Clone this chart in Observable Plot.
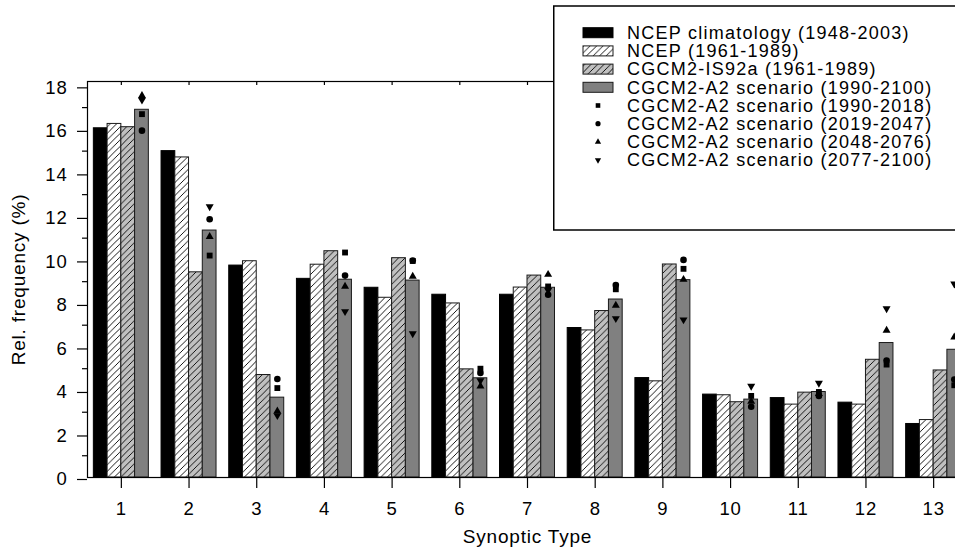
<!DOCTYPE html>
<html><head><meta charset="utf-8">
<script src="https://cdn.jsdelivr.net/npm/d3@7"></script>
<script src="https://cdn.jsdelivr.net/npm/@observablehq/plot@0.6"></script>
<style>
html,body{margin:0;padding:0;background:#fff;overflow:hidden;}
#wrap{position:relative;width:955px;height:554px;overflow:hidden;font-family:"Liberation Sans",Arial,sans-serif;}
#wrap > svg.chart{max-width:none !important;width:975px !important;height:554px !important;}
#legend{position:absolute;left:553px;top:5px;}
</style></head><body>
<svg width="0" height="0" style="position:absolute">
<defs>
<pattern id="hatchWhite" patternUnits="userSpaceOnUse" width="6.5" height="6.5">
<rect width="6.5" height="6.5" fill="#ffffff"/>
<path d="M-1,1 L1,-1 M0,6.5 L6.5,0 M5.5,7.5 L7.5,5.5" stroke="#000" stroke-width="0.9"/>
</pattern>
<pattern id="hatchGrey" patternUnits="userSpaceOnUse" width="6.5" height="6.5">
<rect width="6.5" height="6.5" fill="#c0c0c0"/>
<path d="M-1,1 L1,-1 M0,6.5 L6.5,0 M5.5,7.5 L7.5,5.5" stroke="#000" stroke-width="0.9"/>
</pattern>
</defs></svg>
<div id="wrap"></div>
<script>
// ---- data ----
const types = [1,2,3,4,5,6,7,8,9,10,11,12,13];
const ncepClim  = [16.05, 15.0, 9.74, 9.13, 8.72, 8.40, 8.40, 6.87, 4.57, 3.81, 3.65, 3.44, 2.46];
const ncep6189  = [16.25, 14.71, 9.94, 9.78, 8.26, 8.0, 8.73, 6.76, 4.42, 3.78, 3.35, 3.35, 2.64];
const is92a     = [16.1, 9.43, 4.71, 10.4, 10.08, 4.97, 9.28, 7.65, 9.79, 3.46, 3.9, 5.41, 4.92];
const a2full    = [16.9, 11.35, 3.67, 9.09, 9.05, 4.56, 8.72, 8.18, 9.07, 3.58, 3.93, 6.18, 5.87];
const a2p1 = [16.7, 10.2, 4.11, 10.34, 9.95, 5.0, 8.78, 8.65, 9.59, 3.75, 3.93, 5.19, 4.24];   // 1990-2018
const a2p2 = [15.94, 11.87, 4.53, 9.28, 9.97, 4.8, 8.4, 8.85, 10.0, 3.25, 3.75, 5.38, 4.5];   // 2019-2047
const a2p3 = [17.55, 11.07, 3.05, 8.78, 9.24, 4.2, 9.33, 7.91, 9.1, 3.5, 3.85, 6.76, 6.45];   // 2048-2076
const a2p4 = [17.35, 12.45, 2.85, 7.63, 6.61, 4.45, 8.6, 7.31, 7.25, 4.2, 4.34, 7.76, 8.9];   // 2077-2100
const barNames = ["NCEP climatology (1948-2003)", "NCEP (1961-1989)", "CGCM2-IS92a (1961-1989)", "CGCM2-A2 scenario (1990-2100)"];
const dotNames = ["CGCM2-A2 scenario (1990-2018)", "CGCM2-A2 scenario (2019-2047)", "CGCM2-A2 scenario (2048-2076)", "CGCM2-A2 scenario (2077-2100)"];
const yMajor = [0,2,4,6,8,10,12,14,16,18];
const yMinor = [1,3,5,7,9,11,13,15,17];
const xLabel = "Synoptic Type";
const yLabel = "Rel. frequency (%)";

// ---- styles ----
const barFills = ["#000000", "url(#hatchWhite)", "url(#hatchGrey)", "#808080"];
const barStrokes = ["#000000", "#1a1a1a", "#1a1a1a", "#1a1a1a"];
const triUp = {draw(ctx, size){ const h = Math.sqrt(size/ (Math.sqrt(3)*3)) * 0.9; ctx.moveTo(0,-2*h); ctx.lineTo(Math.sqrt(3)*h, h); ctx.lineTo(-Math.sqrt(3)*h, h); ctx.closePath(); }};
const triDown = {draw(ctx, size){ const h = Math.sqrt(size/ (Math.sqrt(3)*3)) * 0.9; ctx.moveTo(0,2*h); ctx.lineTo(Math.sqrt(3)*h, -h); ctx.lineTo(-Math.sqrt(3)*h, -h); ctx.closePath(); }};
const dotSymbols = ["square", "circle", triUp, triDown];

const barSeries = [ncepClim, ncep6189, is92a, a2full];
const dotSeries = [a2p1, a2p2, a2p3, a2p4];

const W = 975, H = 554, mL = 87, mR = 8, mT = 81, mB = 77;
const band = (W - mL - mR) / types.length;
const groupPad = 6.35, barW = (band - 2*groupPad) / 4;
const lastBarOffset = groupPad + 3.5*barW - band/2;
const FONT = '"Liberation Sans", Arial, sans-serif';

const marks = [];
barSeries.forEach((vals, i) => {
  const rows = types.map((t, j) => ({type: t, value: vals[j]}));
  marks.push(Plot.barY(rows, {x: "type", y: "value", fill: barFills[i], stroke: barStrokes[i], strokeWidth: 1,
    insetLeft: groupPad + i*barW, insetRight: band - groupPad - (i+1)*barW}));
});
dotSeries.forEach((vals, i) => {
  const rows = types.map((t, j) => ({type: t, value: vals[j]}));
  marks.push(Plot.dot(rows, {x: "type", y: "value", symbol: dotSymbols[i], r: 3.3, fill: "#000", stroke: "none", dx: lastBarOffset}));
});
marks.push(Plot.frame({stroke: "#000", strokeWidth: 1.2}));
marks.push(Plot.axisY(yMajor, {tickSize: 10, tickPadding: 10, fontSize: 18.5, dy: 2, label: null, strokeWidth: 1.2}));
marks.push(Plot.axisY(yMinor, {tickSize: 5, tickFormat: () => "", label: null, strokeWidth: 1.2}));
marks.push(Plot.axisX(types, {anchor: "bottom", tickSize: 11, tickPadding: 13, fontSize: 18.5, label: null, strokeWidth: 1.2}));
marks.push(Plot.axisX(types, {anchor: "top", tickSize: -3, tickFormat: () => "", label: null, strokeWidth: 1.2}));
marks.push(Plot.text([xLabel], {text: d => d, frameAnchor: "bottom", dy: 59, fontSize: 19, textAnchor: "middle", lineAnchor: "middle"}));
marks.push(Plot.text([yLabel], {text: d => d, frameAnchor: "left", dx: -69, rotate: -90, fontSize: 19, textAnchor: "middle", lineAnchor: "middle"}));

const chart = Plot.plot({
  width: W, height: H, marginLeft: mL, marginRight: mR, marginTop: mT, marginBottom: mB,
  className: "chart",
  style: {fontFamily: FONT, color: "#000", background: "transparent", overflow: "visible", maxWidth: "none", letterSpacing: "0.8px"},
  x: {type: "band", domain: types, padding: 0, round: false, axis: null},
  y: {domain: [0, 18.2], axis: null},
  marks
});
chart.classList.add("chart");
const wrap = document.getElementById("wrap");
wrap.appendChild(chart);

// ---- legend ----
const lg = d3.select(wrap).append("svg").attr("id", "legend").attr("width", 420).attr("height", 228)
  .style("font-family", FONT).style("letter-spacing", "1.25px");
lg.append("rect").attr("x", 0.75).attr("y", 1).attr("width", 440).attr("height", 224)
  .attr("fill", "#fff").attr("stroke", "#000").attr("stroke-width", 1.5);
const rowY = k => 27.7 + 18.2*k;
barNames.forEach((name, i) => {
  lg.append("rect").attr("x", 30).attr("y", rowY(i) - 5).attr("width", 30).attr("height", 10)
    .attr("fill", barFills[i]).attr("stroke", barStrokes[i]).attr("stroke-width", 1);
  lg.append("text").attr("x", 74).attr("y", rowY(i)).attr("dy", "0.35em").attr("font-size", 18).attr("fill", "#000").text(name);
});
dotNames.forEach((name, i) => {
  const k = i + 4;
  const sym = dotSymbols[i];
  const symType = sym === "square" ? d3.symbolSquare : sym === "circle" ? d3.symbolCircle : sym;
  lg.append("path").attr("transform", `translate(45,${rowY(k)})`)
    .attr("d", d3.symbol(symType, Math.PI * 2.6 * 2.6)()).attr("fill", "#000");
  lg.append("text").attr("x", 74).attr("y", rowY(k)).attr("dy", "0.35em").attr("font-size", 18).attr("fill", "#000").text(name);
});
</script>
</body></html>
